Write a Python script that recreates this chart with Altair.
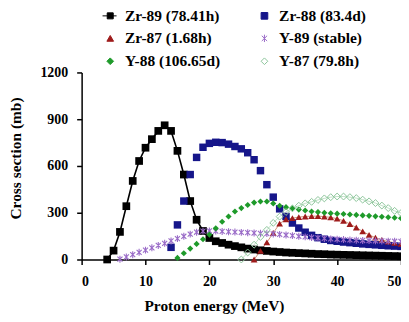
import altair as alt
import pandas as pd

series = ["Zr-89 (78.41h)", "Zr-88 (83.4d)", "Zr-87 (1.68h)",
          "Y-89 (stable)", "Y-88 (106.65d)", "Y-87 (79.8h)"]

zr89_e = list(range(4, 51))
zr89_v = [0, 57, 177, 342, 504, 632, 717, 772, 825, 861, 825, 697, 545, 375, 255, 183,
          138, 117, 106, 95, 86, 78, 70, 64, 59, 55, 51, 48, 45, 43, 41, 39, 37, 35, 34,
          32, 31, 30, 29, 28, 27, 26, 25, 24, 23, 22, 21]

zr88_e = list(range(14, 51))
zr88_v = [78, 222, 375, 545, 655, 720, 745, 752, 750, 740, 725, 710, 685, 640, 570, 480,
          400, 325, 276, 234, 202, 175, 155, 140, 130, 122, 117, 112, 108, 104, 100, 97,
          94, 91, 88, 86, 84]

zr87_e = list(range(27, 51))
zr87_v = [0, 55, 110, 170, 230, 258, 265, 272, 276, 278, 278, 275, 270, 262, 248, 228,
          205, 180, 158, 140, 126, 115, 107, 100]

y89_e = list(range(6, 51))
y89_v = [2, 16, 31, 46, 60, 75, 90, 104, 119, 134, 149, 163, 175, 182, 183, 182, 180,
         178, 176, 174, 172, 170, 168, 166, 164, 161, 157, 153, 149, 145, 141, 138, 135,
         132, 130, 128, 126, 124, 122, 121, 120, 119, 118, 117, 116]

y88_e = list(range(15, 51))
y88_v = [10, 40, 70, 100, 130, 160, 200, 242, 276, 308, 330, 350, 365, 372, 372, 360,
         345, 336, 328, 320, 314, 308, 304, 300, 297, 294, 292, 289, 286, 283, 280, 277,
         274, 271, 268, 265]

y87_e = list(range(25, 51))
y87_v = [0, 45, 95, 145, 190, 235, 275, 305, 328, 345, 360, 370, 382, 392, 400, 404,
         404, 400, 394, 384, 373, 362, 346, 330, 312, 298]

x_ticks = [0, 10, 20, 30, 40, 50]
y_ticks = [0, 300, 600, 900, 1200]

FONT = "'Liberation Serif', 'Times New Roman', Times, serif"

colors = ["#000000", "#16168a", "#9e1b1b", "#9a6cc8", "#1e9a2a", "#8cc59a"]
fills = ["#000000", "#16168a", "#9e1b1b", "transparent", "#1e9a2a", "transparent"]
asterisk = "M-0.8,-0.8L0.8,0.8M-0.8,0.8L0.8,-0.8M0,-1.1L0,1.1"
zr89_sym = "M-2.3,0L1.9,0M-0.9,-0.9L0.9,-0.9L0.9,0.9L-0.9,0.9Z"
shapes = [zr89_sym, "square", "triangle-up", asterisk, "diamond", "diamond"]

# legend fills its grid column by column: order entries to read row by row
legend_order = [0, 2, 4, 1, 3, 5]
leg_domain = [series[i] for i in legend_order]
leg_colors = [colors[i] for i in legend_order]
leg_fills = [fills[i] for i in legend_order]
leg_shapes = [shapes[i] for i in legend_order]


def frame(e, v, name):
    return pd.DataFrame({"E": e, "val": v, "series": name})


dfs = [frame(zr89_e, zr89_v, series[0]), frame(zr88_e, zr88_v, series[1]),
       frame(zr87_e, zr87_v, series[2]), frame(y89_e, y89_v, series[3]),
       frame(y88_e, y88_v, series[4]), frame(y87_e, y87_v, series[5])]

X = alt.X("E:Q", scale=alt.Scale(domain=[0, 50], nice=False, zero=False),
          axis=alt.Axis(values=x_ticks, title="Proton energy (MeV)", tickSize=5,
                        labelPadding=10, titleX=133, titleY=39, titleAnchor="middle",
                        format="d"))
Y = alt.Y("val:Q", scale=alt.Scale(domain=[0, 1200], nice=False),
          axis=alt.Axis(values=y_ticks, title="Cross section (mb)", tickSize=5,
                        labelPadding=9, titleX=-58, titleY=86, titleAnchor="middle",
                        format="d"))

layers = []
layers.append(alt.Chart(dfs[0]).mark_line(color="#000000", strokeWidth=1.6).encode(x=X, y=Y))
layers.append(alt.Chart(dfs[2]).mark_line(color="#b5552d", strokeWidth=0.8, opacity=0.8).encode(x=X, y=Y))
layers.append(alt.Chart(dfs[5]).mark_line(color="#9ccfa5", strokeWidth=0.8, opacity=0.8).encode(x=X, y=Y))

specs = [
    ("square", 60, True, 1),
    ("square", 56, True, 1),
    ("triangle-up", 46, True, 1),
    (asterisk, 40, False, 1.1),
    ("diamond", 38, True, 1),
    ("diamond", 48, False, 1),
]
for i, (shape, size, filled, sw) in enumerate(specs):
    layers.append(
        alt.Chart(dfs[i]).mark_point(shape=shape, size=size, filled=filled,
                                     color=colors[i], strokeWidth=sw, opacity=1)
        .encode(x=X, y=Y)
    )

leg = alt.Legend(title=None, orient="none", legendX=21, legendY=-65, columns=2,
                 columnPadding=36, rowPadding=6, labelFont=FONT,
                 labelFontSize=15.5, labelFontWeight="bold", labelColor="black",
                 symbolSize=45, symbolStrokeWidth=1, labelOffset=7, padding=0,
                 labelLimit=300)

legend_df = pd.DataFrame({"series": leg_domain})
legend_layer = alt.Chart(legend_df).transform_filter("false").mark_point(opacity=1).encode(
    shape=alt.Shape("series:N", scale=alt.Scale(domain=leg_domain, range=leg_shapes), legend=leg),
    fill=alt.Fill("series:N", scale=alt.Scale(domain=leg_domain, range=leg_fills), legend=leg),
    stroke=alt.Stroke("series:N", scale=alt.Scale(domain=leg_domain, range=leg_colors), legend=leg),
)
layers.append(legend_layer)

chart = alt.layer(*layers).properties(
    width=321, height=188,
    autosize=alt.AutoSizeParams(type="none"),
    padding={"left": 74, "top": 64, "right": 0, "bottom": 54},
).configure_view(stroke=None).configure_axis(
    grid=False, domainColor="black", tickColor="black", domainWidth=1.5, tickWidth=1.5,
    labelColor="black", titleColor="black", labelFont=FONT,
    labelFontWeight="bold", labelFontSize=14, titleFont=FONT,
    titleFontWeight="bold", titleFontSize=15.5,
)

chart.save("out.html", embed_options={"renderer": "svg", "actions": False})
